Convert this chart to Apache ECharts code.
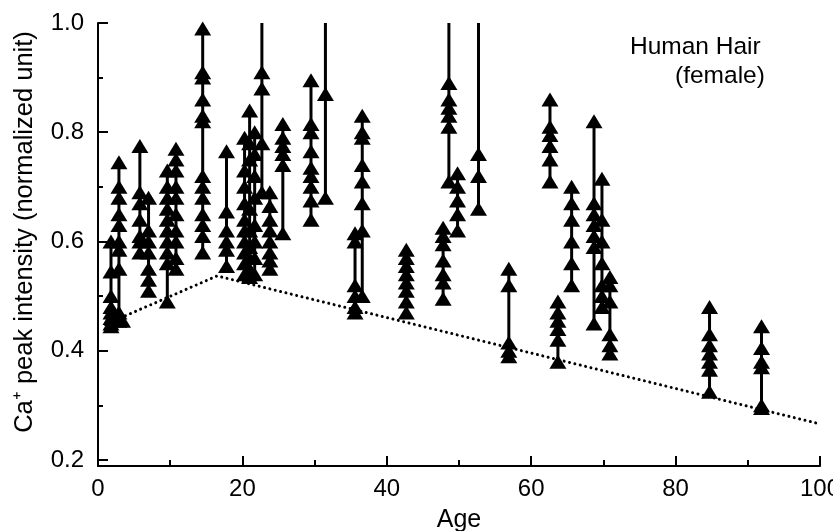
<!DOCTYPE html>
<html><head><meta charset="utf-8">
<script src="https://cdn.jsdelivr.net/npm/echarts@6/dist/echarts.min.js"></script>
<style>html,body{margin:0;padding:0;background:#fff}#c{width:833px;height:531px}</style>
</head><body><div id="c"></div>
<script>
// Ages of each subject (one vertical stem per subject)
const ages = [1.8, 2.9, 3.4, 5.8, 7.0, 9.6, 10.8, 14.5, 17.8, 20.3, 21.0, 21.7, 22.7, 23.8, 25.6, 29.5, 31.5,
  35.6, 36.6, 42.7, 47.8, 48.6, 49.8, 52.7, 56.9, 62.6, 63.7, 65.6, 68.7, 69.8, 70.9, 84.7, 91.9];
// Ca+ peak intensities measured along each hair
const values = [
  [0.60, 0.545, 0.50, 0.48, 0.47, 0.46, 0.45, 0.445],
  [0.745, 0.70, 0.68, 0.65, 0.63, 0.60, 0.585, 0.55, 0.47, 0.455],
  [0.455],
  [0.775, 0.69, 0.67, 0.64, 0.61, 0.60, 0.58],
  [0.68, 0.62, 0.60, 0.58, 0.55, 0.53, 0.51],
  [0.73, 0.70, 0.68, 0.66, 0.64, 0.62, 0.60, 0.58, 0.56, 0.49],
  [0.77, 0.75, 0.73, 0.70, 0.68, 0.65, 0.62, 0.60, 0.57, 0.55],
  [0.99, 0.91, 0.90, 0.86, 0.83, 0.82, 0.72, 0.70, 0.68, 0.65, 0.63, 0.61, 0.58],
  [0.765, 0.655, 0.62, 0.60, 0.585, 0.555],
  [0.79, 0.73, 0.70, 0.67, 0.64, 0.62, 0.60, 0.58, 0.56, 0.54],
  [0.84, 0.78, 0.75, 0.66, 0.62, 0.59, 0.57, 0.55, 0.535],
  [0.80, 0.76, 0.72, 0.68, 0.63, 0.60, 0.57, 0.54],
  [0.91, 0.88, 0.78, 0.69],
  [0.69, 0.665, 0.64, 0.62, 0.60, 0.58, 0.565, 0.55],
  [0.815, 0.79, 0.775, 0.76, 0.74, 0.615],
  [0.895, 0.815, 0.80, 0.765, 0.735, 0.72, 0.70, 0.675, 0.64],
  [0.87, 0.68],
  [0.615, 0.60, 0.52, 0.50, 0.48, 0.47],
  [0.83, 0.80, 0.79, 0.74, 0.71, 0.67, 0.62, 0.50],
  [0.585, 0.57, 0.555, 0.54, 0.525, 0.51, 0.49, 0.47],
  [0.625, 0.61, 0.595, 0.565, 0.54, 0.525, 0.495],
  [0.89, 0.86, 0.845, 0.83, 0.81, 0.71],
  [0.725, 0.70, 0.675, 0.65, 0.62],
  [0.76, 0.72, 0.66],
  [0.55, 0.52, 0.415, 0.40, 0.39],
  [0.86, 0.81, 0.795, 0.775, 0.75, 0.71],
  [0.49, 0.47, 0.455, 0.44, 0.42, 0.38],
  [0.70, 0.67, 0.64, 0.60, 0.56, 0.52],
  [0.82, 0.67, 0.65, 0.63, 0.61, 0.59, 0.45],
  [0.715, 0.64, 0.60, 0.56, 0.52, 0.50, 0.48],
  [0.535, 0.52, 0.49, 0.43, 0.41, 0.395],
  [0.48, 0.43, 0.41, 0.395, 0.38, 0.365, 0.325],
  [0.445, 0.405, 0.38, 0.37, 0.30, 0.295]
];
// Stems that run off the top of the scale
const longStemAges = [22.7, 31.5, 48.6, 52.7];
// Dotted lower-bound trend line
const trendAges = [1, 16.5, 100];
const trendValues = [0.448, 0.537, 0.266];
// Tick labels
const yMajorTicks = [0.2, 0.4, 0.6, 0.8, 1.0];
const yMinorTicks = [0.3, 0.5, 0.7, 0.9];
const yMin = 0.189, yMax = 1.0;

const stemData = ages.map((a, i) => {
  const v = values[i];
  const lo = Math.min(...v);
  const hi = longStemAges.includes(a) ? yMax : Math.max(...v);
  return [a, lo, hi];
});
const pointData = [];
ages.forEach((a, i) => values[i].forEach(v => pointData.push([a, v])));
const trendData = trendAges.map((a, i) => [a, trendValues[i]]);

const FONT = 'Liberation Sans, Arial, Helvetica, sans-serif';
const chart = echarts.init(document.getElementById('c'), null, {renderer: 'canvas'});
chart.setOption({
  animation: false,
  backgroundColor: '#fff',
  grid: {left: 98, right: 13, top: 23, bottom: 65, outerBoundsMode: 'none', containLabel: false},
  xAxis: {
    type: 'value', min: 0, max: 100, interval: 20,
    name: 'Age', nameLocation: 'middle', nameGap: 42,
    nameTextStyle: {fontFamily: FONT, fontSize: 25, color: '#000'},
    axisLine: {show: true, onZero: false, lineStyle: {color: '#000', width: 2}},
    axisTick: {show: true, inside: true, length: 10, lineStyle: {color: '#000', width: 2}},
    minorTick: {show: true, splitNumber: 2, length: 6, lineStyle: {color: '#000', width: 2}},
    axisLabel: {fontFamily: FONT, fontSize: 24, color: '#000', margin: 11},
    splitLine: {show: false}, minorSplitLine: {show: false}
  },
  yAxis: [{
    type: 'value', min: yMin, max: yMax, position: 'left',
    axisLine: {show: true, onZero: false, lineStyle: {color: '#000', width: 2}},
    axisTick: {show: true, inside: true, length: 10, customValues: yMajorTicks, lineStyle: {color: '#000', width: 2}},
    axisLabel: {fontFamily: FONT, fontSize: 24, color: '#000', margin: 14, customValues: yMajorTicks,
      formatter: v => v.toFixed(1)},
    splitLine: {show: false}
  }, {
    type: 'value', min: yMin, max: yMax, position: 'left', offset: 0,
    axisLine: {show: false},
    axisTick: {show: true, inside: true, length: 5, customValues: yMinorTicks, lineStyle: {color: '#000', width: 2}},
    axisLabel: {show: false},
    splitLine: {show: false}
  }],
  graphic: [
    {type: 'text', x: 25, y: 232, rotation: Math.PI / 2,
      style: {text: 'Ca⁺ peak intensity (normalized unit)', font: '25.5px ' + FONT, fill: '#000',
        align: 'center', verticalAlign: 'middle'}},
    {type: 'text', left: 630, top: 35,
      style: {text: 'Human Hair', font: '24.5px ' + FONT, fill: '#000'}},
    {type: 'text', left: 675, top: 64,
      style: {text: '(female)', font: '24.5px ' + FONT, fill: '#000'}}
  ],
  series: [{
    type: 'line', data: trendData, xAxisIndex: 0, yAxisIndex: 0,
    showSymbol: false, symbol: 'none', silent: true,
    lineStyle: {color: '#000', width: 3, type: [0.01, 5.5], cap: 'round'}
  }, {
    type: 'custom', data: stemData, xAxisIndex: 0, yAxisIndex: 0,
    encode: {x: 0, y: [1, 2]},
    renderItem: (params, api) => {
      const p1 = api.coord([api.value(0), api.value(1)]);
      const p2 = api.coord([api.value(0), api.value(2)]);
      return {type: 'line', shape: {x1: p1[0], y1: p1[1], x2: p2[0], y2: p2[1]},
        style: {stroke: '#000', lineWidth: 3}};
    }
  }, {
    type: 'scatter', data: pointData, xAxisIndex: 0, yAxisIndex: 0,
    symbol: 'triangle', symbolSize: [17, 14],
    itemStyle: {color: '#000', opacity: 1}
  }]
});
</script>
</body></html>
